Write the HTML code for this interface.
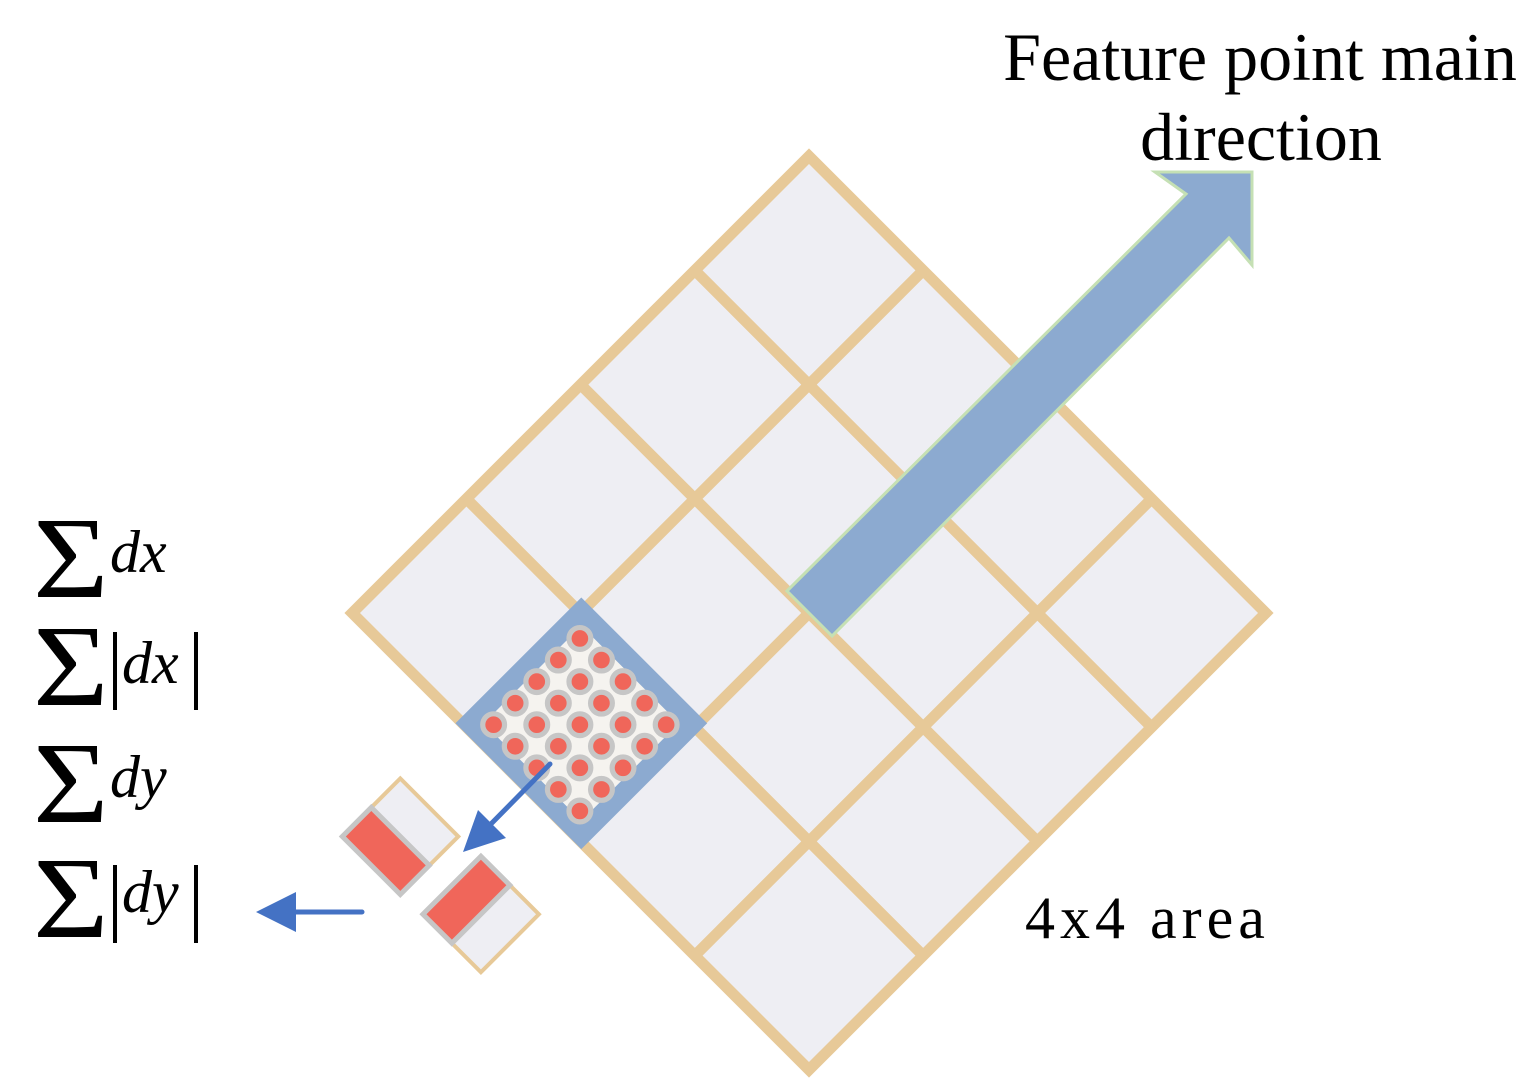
<!DOCTYPE html>
<html><head><meta charset="utf-8"><style>
html,body{margin:0;padding:0;background:#fff;overflow:hidden;width:1536px;height:1089px;}
svg{display:block;}
</style></head><body>
<svg width="1536" height="1089" viewBox="0 0 1536 1089" xmlns="http://www.w3.org/2000/svg">
<g transform="translate(809,613) rotate(45)">
  <rect x="-323" y="-323" width="646" height="646" fill="#eeeef3" stroke="#e7c998" stroke-width="11"/>
  <g stroke="#e7c998" stroke-width="11">
    <line x1="-161.5" y1="-323" x2="-161.5" y2="323"/>
    <line x1="0" y1="-323" x2="0" y2="323"/>
    <line x1="161.5" y1="-323" x2="161.5" y2="323"/>
    <line y1="-161.5" x1="-323" y2="-161.5" x2="323"/>
    <line y1="0" x1="-323" y2="0" x2="323"/>
    <line y1="161.5" x1="-323" y2="161.5" x2="323"/>
  </g>
  <rect x="-162" y="160" width="158" height="158" fill="#f5f3ef" stroke="#8caad0" stroke-width="20"/>
  <g fill="#f0665a" stroke="#c6c6c6" stroke-width="5.2">
    <circle cx="-144" cy="180" r="10.9"/><circle cx="-113.5" cy="180" r="10.9"/><circle cx="-83" cy="180" r="10.9"/><circle cx="-52.5" cy="180" r="10.9"/><circle cx="-22" cy="180" r="10.9"/>
    <circle cx="-144" cy="210.5" r="10.9"/><circle cx="-113.5" cy="210.5" r="10.9"/><circle cx="-83" cy="210.5" r="10.9"/><circle cx="-52.5" cy="210.5" r="10.9"/><circle cx="-22" cy="210.5" r="10.9"/>
    <circle cx="-144" cy="241" r="10.9"/><circle cx="-113.5" cy="241" r="10.9"/><circle cx="-83" cy="241" r="10.9"/><circle cx="-52.5" cy="241" r="10.9"/><circle cx="-22" cy="241" r="10.9"/>
    <circle cx="-144" cy="271.5" r="10.9"/><circle cx="-113.5" cy="271.5" r="10.9"/><circle cx="-83" cy="271.5" r="10.9"/><circle cx="-52.5" cy="271.5" r="10.9"/><circle cx="-22" cy="271.5" r="10.9"/>
    <circle cx="-144" cy="302" r="10.9"/><circle cx="-113.5" cy="302" r="10.9"/><circle cx="-83" cy="302" r="10.9"/><circle cx="-52.5" cy="302" r="10.9"/><circle cx="-22" cy="302" r="10.9"/>
  </g>
  <rect x="-172" y="406" width="82" height="82" fill="#eeeef3" stroke="#e7c998" stroke-width="4"/>
  <rect x="-172" y="447" width="82" height="41" fill="#f0665a" stroke="#c6c6c6" stroke-width="5"/>
  <rect x="-60" y="404" width="82" height="82" fill="#eeeef3" stroke="#e7c998" stroke-width="4"/>
  <rect x="-60" y="404" width="41" height="82" fill="#f0665a" stroke="#c6c6c6" stroke-width="5"/>
</g>
<polygon points="787,591 1186,194 1155,172 1252,172 1252,265 1229,238 832,636" fill="#8caad0" stroke="#c5e0b4" stroke-width="3"/>
<line x1="550" y1="764" x2="485" y2="830" stroke="#4472c4" stroke-width="5" stroke-linecap="round"/>
<polygon points="463,852 478,810 506,838" fill="#4472c4"/>
<line x1="362" y1="912" x2="290" y2="912" stroke="#4472c4" stroke-width="5" stroke-linecap="round"/>
<polygon points="256,912 296,892 296,932" fill="#4472c4"/>
<g font-family="Liberation Serif, serif" fill="#000">
  <text x="1260" y="80" font-size="68" text-anchor="middle">Feature point main</text>
  <text x="1261" y="160" font-size="68" text-anchor="middle">direction</text>
  <text x="1025" y="938" font-size="60" letter-spacing="5">4x4 area</text>
  <g transform="translate(33,0) scale(1.12,1)">
    <text x="0" y="597" font-size="116">Σ</text>
    <text x="0" y="705" font-size="116">Σ</text>
    <text x="0" y="822" font-size="116">Σ</text>
    <text x="0" y="937" font-size="116">Σ</text>
  </g>
  <text x="110" y="572" font-size="60" font-style="italic">dx</text>
  <text x="122" y="683" font-size="60" font-style="italic">dx</text>
  <rect x="113" y="632" width="4" height="78"/><rect x="194" y="632" width="4" height="78"/>
  <text x="110" y="797" font-size="60" font-style="italic">dy</text>
  <text x="122" y="912" font-size="60" font-style="italic">dy</text>
  <rect x="113" y="865" width="4" height="78"/><rect x="194" y="865" width="4" height="78"/>
</g>
</svg>
</body></html>
